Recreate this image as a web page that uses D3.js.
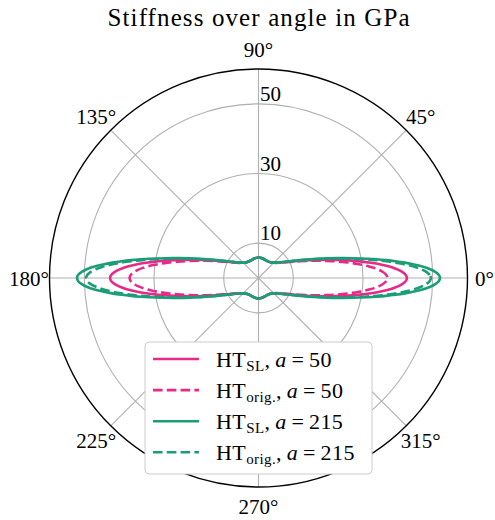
<!DOCTYPE html>
<html>
<head>
<meta charset="utf-8">
<script src="https://cdn.jsdelivr.net/npm/d3@7"></script>
<style>
  body { margin: 0; background: #fff; }
  text { font-family: "Liberation Serif", "Times New Roman", "DejaVu Serif", serif; fill: #000; }
</style>
</head>
<body>
<svg id="chart" width="495" height="520"></svg>
<script>
// Polar angle (degrees) at which the stiffness was evaluated; the material is
// symmetric about both axes, so one quadrant (0°–90°) is stored and reflected.
const angles = [0, 1, 2, 3, 4, 5, 6, 7, 8, 9, 10, 12, 14, 16, 18, 20, 25, 30, 35, 40, 45, 50, 55, 60, 65, 70, 75, 80, 85, 90];

// Stiffness in GPa for each angle above
const hslA50 = [42.60, 42.38, 41.73, 40.69, 39.32, 37.70, 35.90, 33.99, 32.05, 30.11, 28.23, 24.72, 21.63, 18.98, 16.75, 14.88, 11.44, 9.22, 7.78, 6.82, 6.20, 5.81, 5.59, 5.49, 5.49, 5.56, 5.65, 5.76, 5.83, 5.86];
const horigA50 = [37.00, 36.83, 36.35, 35.57, 34.54, 33.30, 31.91, 30.43, 28.88, 27.33, 25.80, 22.88, 20.25, 17.95, 15.97, 14.29, 11.13, 9.06, 7.68, 6.77, 6.17, 5.79, 5.58, 5.49, 5.49, 5.56, 5.65, 5.76, 5.83, 5.86];
const hslA215 = [52.10, 51.76, 50.77, 49.21, 47.18, 44.81, 42.25, 39.58, 36.92, 34.32, 31.85, 27.37, 23.56, 20.39, 17.79, 15.65, 11.83, 9.43, 7.89, 6.89, 6.24, 5.83, 5.60, 5.50, 5.50, 5.56, 5.66, 5.76, 5.83, 5.86];
const horigA215 = [49.50, 49.19, 48.30, 46.89, 45.06, 42.91, 40.56, 38.11, 35.64, 33.23, 30.92, 26.69, 23.07, 20.04, 17.53, 15.46, 11.73, 9.38, 7.87, 6.88, 6.23, 5.83, 5.60, 5.50, 5.50, 5.56, 5.66, 5.76, 5.83, 5.86];

const seriesValues = [hslA50, horigA50, hslA215, horigA215];
const seriesSub = ["SL", "orig.", "SL", "orig."];
const seriesA = ["50", "50", "215", "215"];
const seriesColor = ["#e7298a", "#e7298a", "#1b9e77", "#1b9e77"];
const seriesDashed = [false, true, false, true];

const radialTicks = [10, 30, 50];
const angleTicks = [0, 45, 90, 135, 180, 225, 270, 315];
const radialMax = 60;
const titleText = "Stiffness over angle in GPa";

// ---- layout ----
const W = 495, H = 520;
const cx = 258.5, cy = 278, R = 209;
const FONT = '"Liberation Serif", "Times New Roman", "DejaVu Serif", serif';
const svg = d3.select("#chart");
const g = svg.append("g").attr("transform", `translate(${cx},${cy})`);

const r = d3.scaleLinear().domain([0, radialMax]).range([0, R]);
const toRad = d => d * Math.PI / 180;
// d3 radial angles run clockwise from 12 o'clock; the plot runs counter-clockwise from 3 o'clock
const d3Angle = deg => Math.PI / 2 - toRad(deg);

// grid rings
g.selectAll("circle.ring").data(radialTicks).join("circle")
  .attr("class", "ring").attr("r", d => r(d))
  .attr("fill", "none").attr("stroke", "#b0b0b0").attr("stroke-width", 1.1);

// grid spokes
g.selectAll("line.spoke").data(angleTicks).join("line")
  .attr("class", "spoke")
  .attr("x1", 0).attr("y1", 0)
  .attr("x2", d => R * Math.cos(toRad(d)))
  .attr("y2", d => -R * Math.sin(toRad(d)))
  .attr("stroke", "#b0b0b0").attr("stroke-width", 1.1);

// outer frame
g.append("circle").attr("r", R).attr("fill", "none")
  .attr("stroke", "#000").attr("stroke-width", 1.4);

// angle labels
const labelR = 229.5;
const alabs = g.selectAll("text.alab").data(angleTicks).join("text")
  .attr("class", "alab")
  .attr("font-family", FONT)
  .attr("x", d => labelR * Math.cos(toRad(d)))
  .attr("y", d => -labelR * Math.sin(toRad(d)) + 1)
  .attr("text-anchor", "middle")
  .attr("dominant-baseline", "central")
  .attr("font-size", 21)
  .text(d => d + "°");

// keep every angle label inside the drawing area
alabs.each(function () {
  const b = this.getBBox();
  const right = cx + b.x + b.width, bottom = cy + b.y + b.height;
  const sel = d3.select(this);
  if (right > W - 1) sel.attr("x", +sel.attr("x") - (right - (W - 1)));
  if (bottom > H - 1) sel.attr("y", +sel.attr("y") - (bottom - (H - 1)));
});

// radial labels along the 90° spoke
g.selectAll("text.rlab").data(radialTicks).join("text")
  .attr("class", "rlab")
  .attr("font-family", FONT)
  .attr("x", 1.5)
  .attr("y", d => -r(d) - 3)
  .attr("font-size", 21)
  .text(d => d);

// reflect the stored quadrant into a full revolution
function fullTurn(vals) {
  const pts = [];
  angles.forEach((a, i) => pts.push([a, vals[i]]));
  for (let i = angles.length - 2; i >= 0; i--) pts.push([180 - angles[i], vals[i]]);
  for (let i = 1; i < angles.length; i++) pts.push([180 + angles[i], vals[i]]);
  for (let i = angles.length - 2; i >= 1; i--) pts.push([360 - angles[i], vals[i]]);
  return pts;
}

const radial = d3.lineRadial()
  .angle(d => d3Angle(d[0]))
  .radius(d => r(d[1]))
  .curve(d3.curveCatmullRomClosed.alpha(0.5));

seriesValues.forEach((vals, i) => {
  g.append("path")
    .attr("d", radial(fullTurn(vals)))
    .attr("fill", "none")
    .attr("stroke", seriesColor[i])
    .attr("stroke-width", 2.6)
    .attr("stroke-dasharray", seriesDashed[i] ? "9.6,4.2" : null)
    .attr("stroke-linejoin", "round");
});

// title
svg.append("text")
  .attr("font-family", FONT)
  .attr("x", cx).attr("y", 26)
  .attr("text-anchor", "middle")
  .attr("font-size", 25)
  .attr("textLength", 302)
  .attr("lengthAdjust", "spacing")
  .text(titleText);

// legend
const lg = svg.append("g");
lg.append("rect")
  .attr("x", 145).attr("y", 342).attr("width", 227).attr("height", 132)
  .attr("rx", 4).attr("ry", 4)
  .attr("fill", "#fff").attr("stroke", "#cccccc").attr("stroke-width", 1);

seriesValues.forEach((vals, i) => {
  const y = 359 + i * 31.1;
  lg.append("line")
    .attr("x1", 153).attr("x2", 199).attr("y1", y).attr("y2", y)
    .attr("stroke", seriesColor[i]).attr("stroke-width", 2.6)
    .attr("stroke-dasharray", seriesDashed[i] ? "9.6,4.2" : null);
  const t = lg.append("text")
    .attr("font-family", FONT)
    .attr("x", 216).attr("y", y + 7.5)
    .attr("font-size", 22)
    .attr("letter-spacing", 0.4);
  t.append("tspan").text("HT");
  t.append("tspan").attr("font-size", 15).attr("dy", 4).text(seriesSub[i]);
  t.append("tspan").attr("dy", -4).text(",\u2009");
  t.append("tspan").attr("font-style", "italic").text("a");
  t.append("tspan").text("\u2009=\u2009" + seriesA[i]);
});
</script>
</body>
</html>
